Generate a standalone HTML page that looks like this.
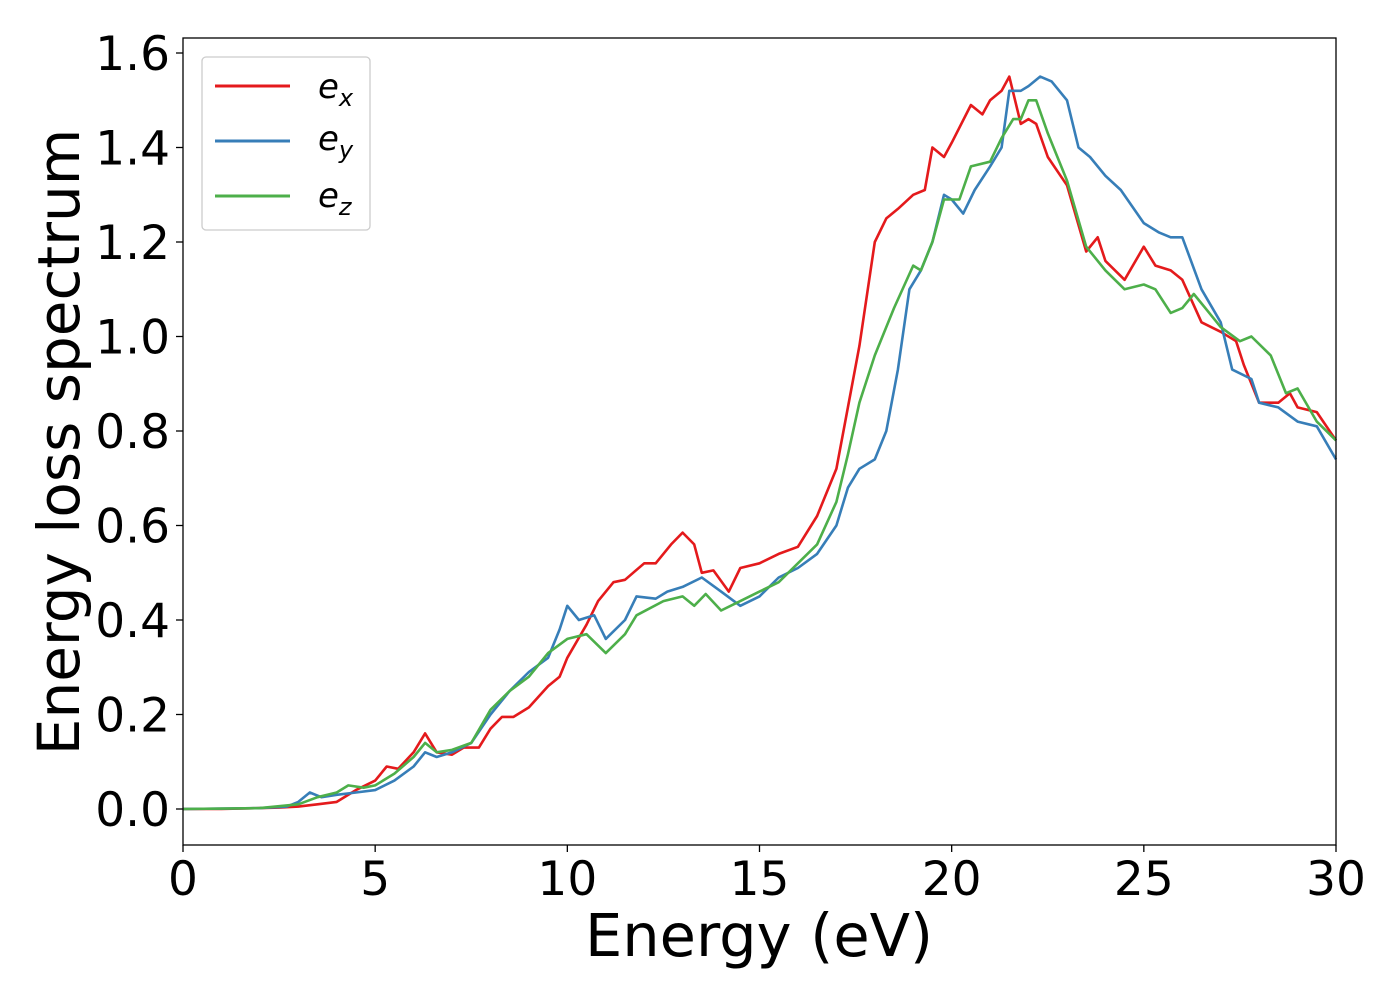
<!DOCTYPE html>
<html><head><meta charset="utf-8"><style>
body{margin:0;background:#fff;}
svg text{font-family:"DejaVu Sans","Liberation Sans",sans-serif;fill:#000;}
</style></head><body>
<svg id="chart" width="1400" height="1000" viewBox="0 0 1400 1000" xmlns="http://www.w3.org/2000/svg">
<rect x="0" y="0" width="1400" height="1000" fill="#fff"/>
<g id="plot"></g>
<rect x="183" y="38" width="1153" height="807" fill="none" stroke="#000" stroke-width="1.3"/>
<g id="xticks"></g><g id="yticks"></g>
<text x="759" y="956" font-size="59" text-anchor="middle">Energy (eV)</text>
<text transform="translate(79,442) rotate(-90)" font-size="58" text-anchor="middle">Energy loss spectrum</text>
<g>
<rect x="202" y="57" width="168" height="173" rx="4" fill="#fff" stroke="#ccc" stroke-width="1.3"/>
<line x1="215" y1="86" x2="290" y2="86" stroke="#e41a1c" stroke-width="3"/>
<text x="318" y="98" font-size="34" font-style="italic">e<tspan font-size="24" dy="8">x</tspan></text>
<line x1="215" y1="141" x2="290" y2="141" stroke="#377eb8" stroke-width="3"/>
<text x="318" y="150" font-size="34" font-style="italic">e<tspan font-size="24" dy="8">y</tspan></text>
<line x1="215" y1="196" x2="290" y2="196" stroke="#4daf4a" stroke-width="3"/>
<text x="318" y="207" font-size="34" font-style="italic">e<tspan font-size="24" dy="8">z</tspan></text>
</g>
</svg>
<script>
const exX=[0,1,2,2.5,3,3.5,4,4.5,5,5.3,5.6,6,6.3,6.6,7,7.3,7.7,8,8.3,8.6,9,9.5,9.8,10,10.5,10.8,11.2,11.5,12,12.3,12.7,13,13.3,13.5,13.8,14.2,14.5,15,15.5,16,16.5,17,17.3,17.6,18,18.3,18.6,19,19.3,19.5,19.8,20,20.5,20.8,21,21.3,21.5,21.8,22,22.2,22.5,23,23.5,23.8,24,24.5,25,25.3,25.7,26,26.5,27,27.4,27.6,28,28.5,28.8,29,29.5,30];
const exY=[0,0,0.002,0.003,0.005,0.01,0.015,0.04,0.06,0.09,0.085,0.12,0.16,0.12,0.115,0.13,0.13,0.17,0.195,0.195,0.215,0.26,0.28,0.32,0.39,0.44,0.48,0.485,0.52,0.52,0.56,0.585,0.56,0.5,0.505,0.46,0.51,0.52,0.54,0.555,0.62,0.72,0.85,0.98,1.2,1.25,1.27,1.3,1.31,1.4,1.38,1.41,1.49,1.47,1.5,1.52,1.55,1.45,1.46,1.45,1.38,1.32,1.18,1.21,1.16,1.12,1.19,1.15,1.14,1.12,1.03,1.01,0.99,0.94,0.86,0.86,0.88,0.85,0.84,0.78];
const eyX=[0,2,2.7,3,3.3,3.6,4,4.5,5,5.5,6,6.3,6.6,7,7.5,8,8.5,9,9.5,9.8,10,10.3,10.7,11,11.5,11.8,12.3,12.6,13,13.5,14,14.5,15,15.5,16,16.5,17,17.3,17.6,18,18.3,18.6,18.9,19.2,19.5,19.8,20,20.3,20.6,21,21.3,21.5,21.8,22,22.3,22.6,23,23.3,23.6,24,24.4,25,25.4,25.7,26,26.5,27,27.3,27.8,28,28.5,29,29.5,30];
const eyY=[0,0.002,0.005,0.015,0.035,0.025,0.03,0.035,0.04,0.06,0.09,0.12,0.11,0.12,0.14,0.2,0.25,0.29,0.32,0.38,0.43,0.4,0.41,0.36,0.4,0.45,0.445,0.46,0.47,0.49,0.46,0.43,0.45,0.49,0.51,0.54,0.6,0.68,0.72,0.74,0.8,0.93,1.1,1.14,1.2,1.3,1.29,1.26,1.31,1.36,1.4,1.52,1.52,1.53,1.55,1.54,1.5,1.4,1.38,1.34,1.31,1.24,1.22,1.21,1.21,1.1,1.03,0.93,0.91,0.86,0.85,0.82,0.81,0.74];
const ezX=[0,2,3,3.5,4,4.3,4.7,5,5.5,6,6.3,6.6,7,7.5,8,8.5,9,9.5,10,10.5,11,11.5,11.8,12.5,13,13.3,13.6,14,14.5,15,15.5,16,16.5,17,17.3,17.6,18,18.5,19,19.2,19.5,19.8,20.2,20.5,21,21.3,21.6,21.8,22,22.2,22.5,23,23.5,24,24.5,25,25.3,25.7,26,26.3,26.6,27,27.5,27.8,28.3,28.7,29,29.5,30];
const ezY=[0,0.002,0.01,0.025,0.035,0.05,0.045,0.05,0.075,0.11,0.14,0.12,0.125,0.14,0.21,0.25,0.28,0.33,0.36,0.37,0.33,0.37,0.41,0.44,0.45,0.43,0.455,0.42,0.44,0.46,0.48,0.52,0.56,0.65,0.75,0.86,0.96,1.06,1.15,1.14,1.2,1.29,1.29,1.36,1.37,1.42,1.46,1.46,1.5,1.5,1.43,1.33,1.19,1.14,1.1,1.11,1.1,1.05,1.06,1.09,1.06,1.02,0.99,1.0,0.96,0.88,0.89,0.82,0.78];
const xTicks=[0,5,10,15,20,25,30];
const yTicks=[0,0.2,0.4,0.6,0.8,1.0,1.2,1.4,1.6];
const NS="http://www.w3.org/2000/svg";
const sx=v=>183+v*(1153/30);
const sy=v=>809-v*472.5;
function mk(t,a,p){const e=document.createElementNS(NS,t);for(const k in a)e.setAttribute(k,a[k]);p.appendChild(e);return e;}
const plot=document.getElementById('plot');
function series(xs,ys,color,name){
  const d=xs.map((x,i)=>(i?'L':'M')+sx(x).toFixed(1)+' '+sy(ys[i]).toFixed(1)).join(' ');
  const p=mk('path',{d:d,fill:'none',stroke:color,'stroke-width':2.6,'stroke-linejoin':'round'},plot);
  
  
}
series(exX,exY,'#e41a1c','series-ex-line');
series(eyX,eyY,'#377eb8','series-ey-line');
series(ezX,ezY,'#4daf4a','series-ez-line');
const xg=document.getElementById('xticks');
xTicks.forEach(v=>{
  const l=mk('line',{x1:sx(v),x2:sx(v),y1:845,y2:852,stroke:'#000','stroke-width':1.3},xg);
  
  
  const t=mk('text',{x:sx(v),y:895,'font-size':47,'text-anchor':'middle'},xg);
  t.textContent=v;
  
  
});
const yg=document.getElementById('yticks');
yTicks.forEach(v=>{
  const l=mk('line',{x1:176,x2:183,y1:sy(v),y2:sy(v),stroke:'#000','stroke-width':1.3},yg);
  
  
  const t=mk('text',{x:170,y:sy(v)+17,'font-size':47,'text-anchor':'end'},yg);
  t.textContent=v.toFixed(1);
  
  
});
</script>
</body></html>
